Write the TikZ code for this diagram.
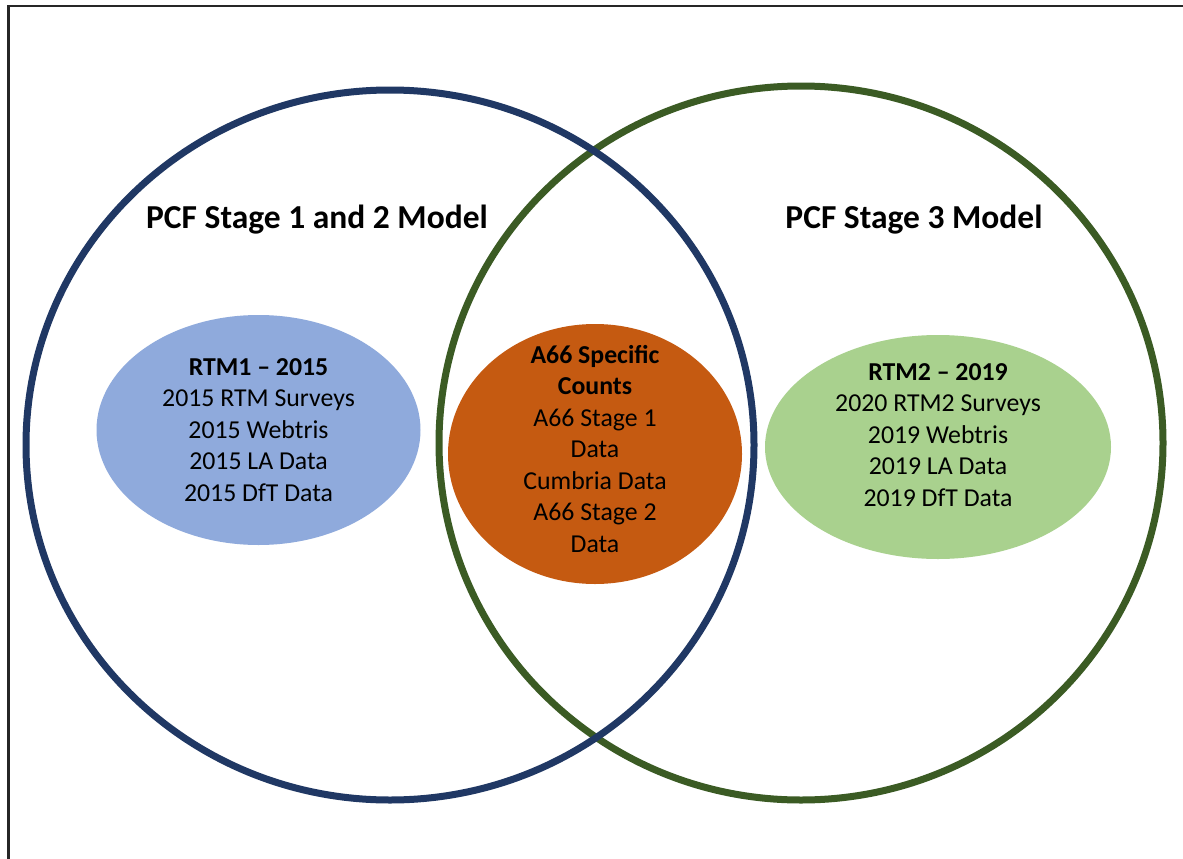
\documentclass[tikz,border=0pt]{standalone}
\usepackage{fontspec}
\setmainfont{Carlito}
\usetikzlibrary{shapes.geometric}
\definecolor{navy}{HTML}{203864}
\definecolor{dgreen}{HTML}{3B5B24}
\definecolor{lblue}{HTML}{8FAADC}
\definecolor{orng}{HTML}{C55A11}
\definecolor{lgreen}{HTML}{A9D18E}
\tikzset{
  bigcircle/.style={draw, line width=7pt},
  blob/.style={ellipse, inner sep=0pt},
  blobtext/.style={inner sep=0pt, align=center, text=black,
    font=\fontsize{25.8}{31.5}\selectfont},
  title/.style={font=\fontsize{33.5}{38}\selectfont\bfseries, text=black, inner sep=0pt}
}
\begin{document}
\begin{tikzpicture}[x=1pt,y=-1pt]
\useasboundingbox (0,0) rectangle (1183,859);
\clip (0,0) rectangle (1183,859);
\fill[white] (0,0) rectangle (1183,859);
\draw[line width=2.2pt, black!85] (8.5,870) |- (1195,6);
% filled ellipses
\node[blob, fill=lblue, minimum width=324pt, minimum height=230pt] (rtm1) at (258.5,430) {};
\node[blobtext] (rtm1t) at (rtm1.center)
  {\textbf{RTM1 – 2015}\\2015 RTM Surveys\\2015 Webtris\\2015 LA Data\\2015 DfT Data};
\node[blob, fill=orng, minimum width=294pt, minimum height=260pt] (a66) at (595,454) {};
\node[blobtext] (a66t) at (595,449)
  {\textbf{A66 Specific}\\\textbf{Counts}\\A66 Stage 1\\Data\\Cumbria Data\\A66 Stage 2\\Data};
\node[blob, fill=lgreen, minimum width=346pt, minimum height=224pt] (rtm2) at (938,447) {};
\node[blobtext] (rtm2t) at (938,435)
  {\textbf{RTM2 – 2019}\\2020 RTM2 Surveys\\2019 Webtris\\2019 LA Data\\2019 DfT Data};
% big circles
\draw[bigcircle, dgreen] (801,443) ellipse [x radius=362, y radius=357];
\draw[bigcircle, navy] (390,445) ellipse [x radius=364, y radius=355];
% titles
\node[title] (t1) at (317,220) {PCF Stage 1 and 2 Model};
\node[title] (t2) at (914,220) {PCF Stage 3 Model};
\end{tikzpicture}
\end{document}
